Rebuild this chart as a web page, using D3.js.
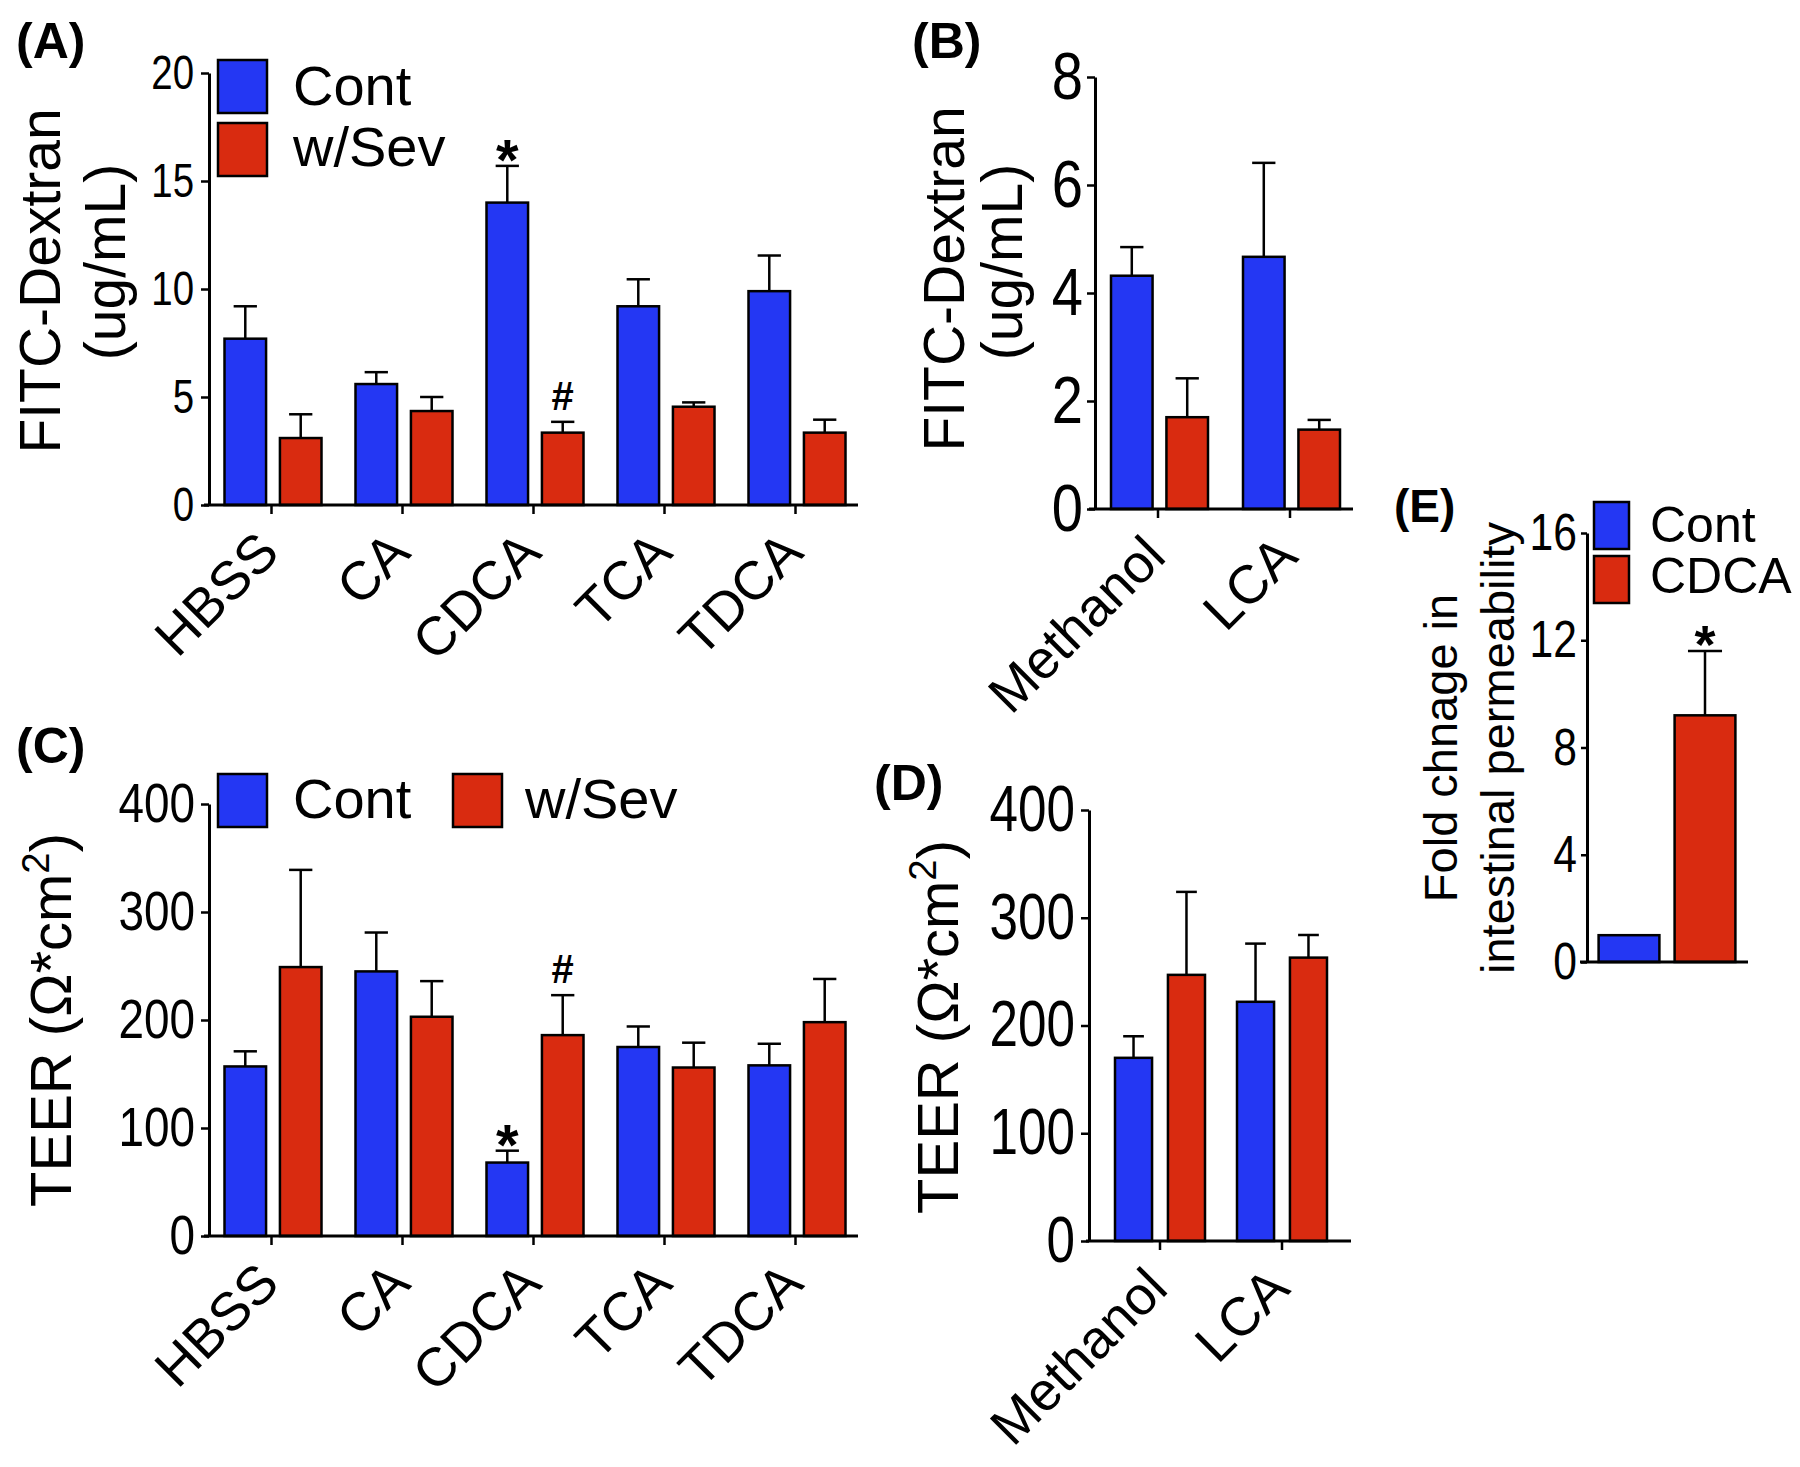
<!DOCTYPE html>
<html>
<head>
<meta charset="utf-8">
<title>FITC-Dextran and TEER</title>
<script src="https://d3js.org/d3.v7.min.js"></script>
<style>
  body { margin: 0; background: #fff; }
  #fig { display: block; font-family: "Liberation Sans", Arial, sans-serif; }
</style>
</head>
<body>
<svg id="fig" width="1800" height="1467"></svg>
<script>
// ---- data ----
const seriesSev = ["Cont", "w/Sev"];
const seriesE = ["Cont", "CDCA"];
const bileAcids = ["HBSS", "CA", "CDCA", "TCA", "TDCA"];
const solventAcids = ["Methanol", "LCA"];

// (A) FITC-Dextran, ug/mL
const fitcCont = [7.7, 5.6, 14.0, 9.2, 9.9];
const fitcContSem = [1.5, 0.55, 1.7, 1.25, 1.65];
const fitcSev = [3.1, 4.35, 3.35, 4.55, 3.35];
const fitcSevSem = [1.1, 0.65, 0.5, 0.2, 0.6];

// (B) FITC-Dextran, methanol / LCA
const fitcLcaCont = [4.32, 4.67];
const fitcLcaContSem = [0.53, 1.74];
const fitcLcaSev = [1.7, 1.47];
const fitcLcaSevSem = [0.72, 0.18];

// (C) TEER
const teerCont = [157, 245, 68, 175, 158];
const teerContSem = [14, 36, 11, 19, 20];
const teerSev = [249, 203, 186, 156, 198];
const teerSevSem = [90, 33, 37, 23, 40];

// (D) TEER, methanol / LCA
const teerLcaCont = [170, 222];
const teerLcaContSem = [20, 54];
const teerLcaSev = [247, 263];
const teerLcaSevSem = [77, 21];

// (E) fold change in intestinal permeability
const foldValues = [1.0, 9.2];
const foldSem = [0, 2.4];

const ticksA = [0, 5, 10, 15, 20];
const ticksB = [0, 2, 4, 6, 8];
const ticksTeer = [0, 100, 200, 300, 400];
const ticksE = [0, 4, 8, 12, 16];

const blue = "#2437f3";
const red = "#d92b10";
const colors = [blue, red];

const svg = d3.select('#fig');

// condensed tick numbers, like the original figure
function styleYAxis(sel, size, sx, offset) {
    sel.select('.domain').attr('stroke-width', 3);
    sel.selectAll('.tick line').attr('stroke-width', 2.5);
    sel.selectAll('.tick text')
        .attr('font-size', size)
        .attr('font-family', '"Liberation Sans", Arial, sans-serif')
        .attr('fill', 'black')
        .attr('x', -offset / sx)
        .attr('transform', `scale(${sx},1)`);
}

function drawGrouped(p) {
    const g = svg.append('g');
    const y = d3.scaleLinear().domain([0, p.ticks[p.ticks.length - 1]]).range([p.y0, p.y1]);
    const x = d3.scaleBand().domain(p.cats).range(p.xRange);
    const inner = d3.scaleBand().domain(d3.range(p.series.length))
        .range([-p.half, p.half + p.shift]).paddingInner(p.gap);

    // bars + error bars
    p.series.forEach((s, si) => {
        p.cats.forEach((c, ci) => {
            const cx = x(c) + x.bandwidth() / 2;
            const bx = cx + inner(si);
            const bw = inner.bandwidth();
            const v = p.values[si][ci];
            const e = p.errors[si][ci];
            if (e > 0) {
                g.append('line')
                    .attr('x1', bx + bw / 2).attr('x2', bx + bw / 2)
                    .attr('y1', y(v)).attr('y2', y(v + e))
                    .attr('stroke', 'black').attr('stroke-width', 2.5);
                g.append('line')
                    .attr('x1', bx + bw / 2 - bw * 0.28).attr('x2', bx + bw / 2 + bw * 0.28)
                    .attr('y1', y(v + e)).attr('y2', y(v + e))
                    .attr('stroke', 'black').attr('stroke-width', 2.5);
            }
            g.append('rect')
                .attr('x', bx).attr('y', y(v))
                .attr('width', bw).attr('height', y(0) - y(v))
                .attr('fill', colors[si])
                .attr('stroke', 'black').attr('stroke-width', 2.5);
        });
    });

    // significance marks
    (p.marks || []).forEach(m => {
        const ci = p.cats.indexOf(m.cat);
        const cx = x(m.cat) + x.bandwidth() / 2 + inner(m.series) + inner.bandwidth() / 2;
        const top = y(p.values[m.series][ci] + p.errors[m.series][ci]);
        const t = g.append('text')
            .attr('x', cx)
            .attr('text-anchor', 'middle')
            .attr('font-weight', 'bold')
            .text(m.text);
        if (m.text === '*') t.attr('y', top + 14).attr('font-size', 58);
        else t.attr('y', top - 12).attr('font-size', 40);
    });

    // y axis
    const yAxis = g.append('g')
        .attr('transform', `translate(${p.axisX},0)`)
        .call(d3.axisLeft(y).tickValues(p.ticks).tickSize(8).tickSizeOuter(0));
    styleYAxis(yAxis, p.tickFont, p.tickSx, p.tickOffset);

    // x axis
    g.append('line')
        .attr('x1', p.xLine[0]).attr('x2', p.xLine[1])
        .attr('y1', p.y0).attr('y2', p.y0)
        .attr('stroke', 'black').attr('stroke-width', 3);
    p.cats.forEach(c => {
        const cx = x(c) + x.bandwidth() / 2;
        g.append('line')
            .attr('x1', cx).attr('x2', cx)
            .attr('y1', p.y0).attr('y2', p.y0 + 9)
            .attr('stroke', 'black').attr('stroke-width', 2.5);
        g.append('text')
            .attr('transform', `translate(${cx + 10},${p.y0 + 50}) rotate(-45)`)
            .attr('text-anchor', 'end')
            .attr('font-size', 54)
            .text(c);
    });

    // y title
    p.title.forEach(line => {
        const t = g.append('text')
            .attr('transform', `translate(${line.x},${line.cy}) rotate(-90)`)
            .attr('text-anchor', 'middle')
            .attr('font-size', line.size);
        if (line.sup) {
            t.append('tspan').text(line.text);
            t.append('tspan').attr('dy', -22).attr('font-size', line.size * 0.66).text(line.sup);
            t.append('tspan').attr('dy', 22).text(line.after);
        } else {
            t.text(line.text);
        }
    });

    // panel letter
    g.append('text')
        .attr('x', p.letter[1]).attr('y', p.letter[2])
        .attr('font-size', p.letter[3]).attr('font-weight', 'bold')
        .text(p.letter[0]);

    // legend
    (p.legend || []).forEach((l, i) => {
        g.append('rect')
            .attr('x', l.x).attr('y', l.y)
            .attr('width', l.w).attr('height', l.h)
            .attr('fill', colors[i])
            .attr('stroke', 'black').attr('stroke-width', 2.5);
        g.append('text')
            .attr('x', l.tx).attr('y', l.ty)
            .attr('font-size', l.size)
            .text(p.series[i]);
    });
}

// (A)
drawGrouped({
    cats: bileAcids, series: seriesSev,
    values: [fitcCont, fitcSev], errors: [fitcContSem, fitcSevSem],
    ticks: ticksA, y0: 505, y1: 73, axisX: 209,
    xRange: [206, 861], xLine: [204, 858], half: 47, shift: 3, gap: 0.25,
    tickFont: 48, tickSx: 0.8, tickOffset: 15,
    marks: [{cat: "CDCA", series: 0, text: "*"}, {cat: "CDCA", series: 1, text: "#"}],
    title: [{text: "FITC-Dextran", x: 60, cy: 281, size: 57},
            {text: "(ug/mL)", x: 125, cy: 262, size: 57}],
    letter: ["(A)", 16, 58, 50],
    legend: [{x: 218, y: 60, w: 49, h: 53, tx: 293, ty: 105, size: 56},
             {x: 218, y: 123, w: 49, h: 53, tx: 293, ty: 166, size: 56}]
});

// (B)
drawGrouped({
    cats: solventAcids, series: seriesSev,
    values: [fitcLcaCont, fitcLcaSev], errors: [fitcLcaContSem, fitcLcaSevSem],
    ticks: ticksB, y0: 509, y1: 77, axisX: 1095,
    xRange: [1092, 1356], xLine: [1089, 1353], half: 47, shift: 3, gap: 0.25,
    tickFont: 66, tickSx: 0.85, tickOffset: 12,
    title: [{text: "FITC-Dextran", x: 964, cy: 279, size: 57},
            {text: "(ug/mL)", x: 1022, cy: 262, size: 57}],
    letter: ["(B)", 912, 58, 50]
});

// (C)
drawGrouped({
    cats: bileAcids, series: seriesSev,
    values: [teerCont, teerSev], errors: [teerContSem, teerSevSem],
    ticks: ticksTeer, y0: 1236, y1: 804, axisX: 209,
    xRange: [206, 861], xLine: [204, 858], half: 47, shift: 3, gap: 0.25,
    tickFont: 56, tickSx: 0.82, tickOffset: 14,
    marks: [{cat: "CDCA", series: 0, text: "*"}, {cat: "CDCA", series: 1, text: "#"}],
    title: [{text: "TEER (Ω*cm", sup: "2", after: ")", x: 71, cy: 1020, size: 58}],
    letter: ["(C)", 16, 763, 50],
    legend: [{x: 218, y: 774, w: 49, h: 53, tx: 293, ty: 818, size: 56},
             {x: 453, y: 774, w: 49, h: 53, tx: 525, ty: 818, size: 56}]
});

// (D)
drawGrouped({
    cats: solventAcids, series: seriesSev,
    values: [teerLcaCont, teerLcaSev], errors: [teerLcaContSem, teerLcaSevSem],
    ticks: ticksTeer, y0: 1241, y1: 810, axisX: 1089,
    xRange: [1099, 1343], xLine: [1086, 1351], half: 45, shift: 0, gap: 0.3,
    tickFont: 64, tickSx: 0.8, tickOffset: 14,
    title: [{text: "TEER (Ω*cm", sup: "2", after: ")", x: 958, cy: 1027, size: 58}],
    letter: ["(D)", 874, 800, 50]
});

// (E)
(function () {
    const g = svg.append('g');
    const y = d3.scaleLinear().domain([0, 16]).range([962, 533]);
    const x = d3.scaleBand().domain(seriesE).range([1591, 1743]).paddingInner(0.2).paddingOuter(0.1);

    seriesE.forEach((s, i) => {
        const bx = x(s), bw = x.bandwidth();
        if (foldSem[i] > 0) {
            g.append('line')
                .attr('x1', bx + bw / 2).attr('x2', bx + bw / 2)
                .attr('y1', y(foldValues[i])).attr('y2', y(foldValues[i] + foldSem[i]))
                .attr('stroke', 'black').attr('stroke-width', 2.5);
            g.append('line')
                .attr('x1', bx + bw / 2 - bw * 0.28).attr('x2', bx + bw / 2 + bw * 0.28)
                .attr('y1', y(foldValues[i] + foldSem[i])).attr('y2', y(foldValues[i] + foldSem[i]))
                .attr('stroke', 'black').attr('stroke-width', 2.5);
            g.append('text')
                .attr('x', bx + bw / 2).attr('y', y(foldValues[i] + foldSem[i]) + 12)
                .attr('text-anchor', 'middle').attr('font-weight', 'bold')
                .attr('font-size', 54).text('*');
        }
        g.append('rect')
            .attr('x', bx).attr('y', y(foldValues[i]))
            .attr('width', bw).attr('height', y(0) - y(foldValues[i]))
            .attr('fill', colors[i])
            .attr('stroke', 'black').attr('stroke-width', 2.5);
    });

    const yAxis = g.append('g')
        .attr('transform', 'translate(1587,0)')
        .call(d3.axisLeft(y).tickValues(ticksE).tickSize(6).tickSizeOuter(0));
    styleYAxis(yAxis, 52, 0.82, 10);

    g.append('line')
        .attr('x1', 1580).attr('x2', 1748)
        .attr('y1', 962).attr('y2', 962)
        .attr('stroke', 'black').attr('stroke-width', 3);

    [["Fold chnage in", 1457], ["intestinal permeability", 1514]].forEach(([t, bx]) => {
        g.append('text')
            .attr('transform', `translate(${bx},748) rotate(-90)`)
            .attr('text-anchor', 'middle')
            .attr('font-size', 47)
            .text(t);
    });

    g.append('text')
        .attr('x', 1394).attr('y', 522)
        .attr('font-size', 46).attr('font-weight', 'bold')
        .text('(E)');

    seriesE.forEach((s, i) => {
        g.append('rect')
            .attr('x', 1594).attr('y', 502 + i * 54)
            .attr('width', 35).attr('height', 47)
            .attr('fill', colors[i])
            .attr('stroke', 'black').attr('stroke-width', 2.5);
        g.append('text')
            .attr('x', 1650).attr('y', 542 + i * 51)
            .attr('font-size', 50)
            .text(s);
    });
})();
</script>
</body>
</html>
